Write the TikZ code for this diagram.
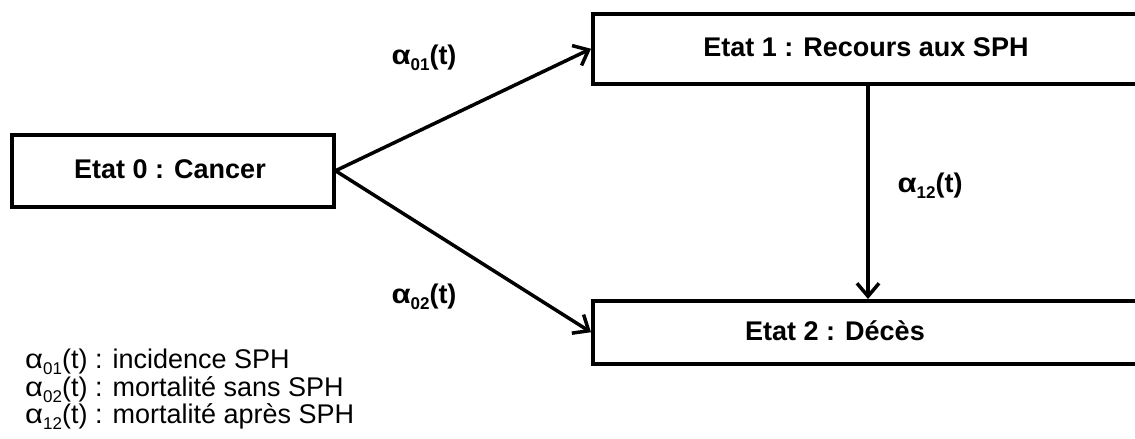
\documentclass[tikz,border=0pt]{standalone}
\usepackage{fontspec}
\setmainfont{Liberation Sans}
\usetikzlibrary{arrows.meta}
\newcommand\myalpha{\scalebox{1.15}[1.0]{α}}
\newcommand\mysub[1]{\raisebox{-6pt}{\fontsize{17}{17}\selectfont #1}}
\newcommand\al[1]{\myalpha\mysub{#1}(t)}
\begin{document}
\begin{tikzpicture}[x=1pt,y=-1pt,
  box/.style={draw=black, line width=3.5pt, inner sep=0pt, anchor=north west},
  boxtext/.style={font=\fontsize{27}{32}\selectfont\bfseries, inner sep=0pt},
  lab/.style={font=\fontsize{27}{32}\selectfont\bfseries, inner sep=0pt},
  leg/.style={font=\fontsize{27}{32}\selectfont, inner sep=0pt, anchor=base west},
  arr/.style={line width=3.5pt, -{Straight Barb[length=13pt,width=22pt,line width=3.5pt]}}]
\useasboundingbox (0,0) rectangle (1135,439);
\begin{scope}
\clip (0,0) rectangle (1135,439);
\node[box, minimum width=322pt, minimum height=72pt] (b0) at (10,133) {};
\node[box, minimum width=560pt, minimum height=70pt] (b1) at (591,12) {};
\node[box, minimum width=560pt, minimum height=63pt] (b2) at (591,299) {};
\end{scope}
\node[boxtext] (t0) at (170,169) {Etat 0 : Cancer};
\node[boxtext] (t1) at (866,47) {Etat 1 : Recours aux SPH};
\node[boxtext] (t2) at (835,331) {Etat 2 : Décès};
\coordinate (v1) at (868,82);
\coordinate (v2) at (868,299);
\draw[arr] (b0.east) -- (b1.west);
\draw[arr] (b0.east) -- (b2.west);
\draw[arr] (v1) -- (v2);
\node[lab] (l01) at (424,58) {\al{01}};
\node[lab] (l02) at (424,297) {\al{02}};
\node[lab] (l12) at (930,186) {\al{12}};
\node[leg] (g1) at (25,368) {\al{01} : incidence SPH};
\node[leg] (g2) at (25,396) {\al{02} : mortalité sans SPH};
\node[leg] (g3) at (25,423) {\al{12} : mortalité après SPH};
\end{tikzpicture}
\end{document}
